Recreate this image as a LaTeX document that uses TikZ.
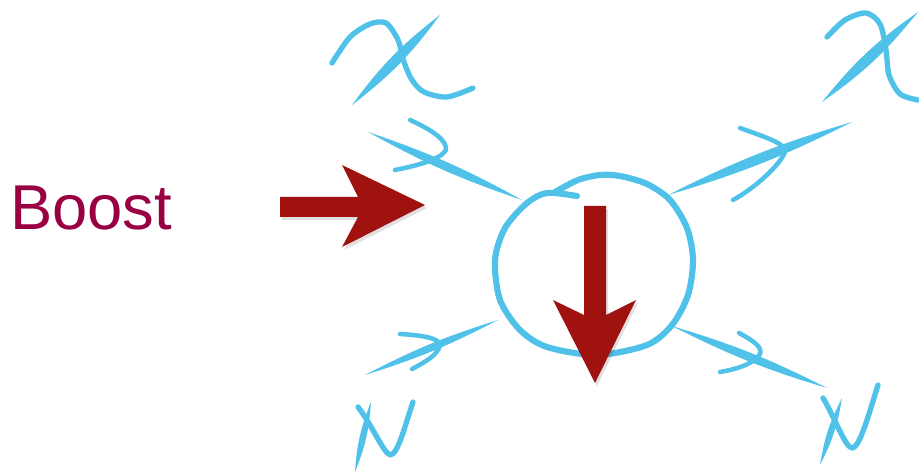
\documentclass[tikz,border=0pt]{standalone}
\usepackage{fontspec}
\setmainfont{Liberation Sans}
\definecolor{sk}{RGB}{80,193,233}
\definecolor{ar}{RGB}{160,18,16}
\definecolor{bt}{RGB}{153,0,68}
\newcommand{\lensstroke}[3]{\fill[sk] (#1) to[bend left=#3] (#2) to[bend left=#3] (#1) -- cycle;}
\begin{document}
\begin{tikzpicture}[x=0.75pt,y=-0.75pt,
  stroke/.style={draw=sk,line cap=round,line join=round,line width=3.4pt},
  redarrow/.style={fill=ar},
  shadowarrow/.style={fill=black,opacity=0.12}]
\useasboundingbox (0,0) rectangle (919,473);
% Boost label
\node[anchor=base west, text=bt, font=\fontsize{47.5}{50}\selectfont, inner sep=0] (boost) at (10,230) {Boost};
% red arrows (with faint shadow)
\fill[shadowarrow] ([shift={(2,3)}]280,197) -- ([shift={(2,3)}]358,197) -- ([shift={(2,3)}]342,165) -- ([shift={(2,3)}]425,205) -- ([shift={(2,3)}]342,247) -- ([shift={(2,3)}]358,217) -- ([shift={(2,3)}]280,217) -- cycle;
\fill[redarrow] (280,197) -- (358,197) -- (342,165) -- (425,205) -- (342,247) -- (358,217) -- (280,217) -- cycle;
% circle
\draw[stroke,line width=4.6pt] plot[smooth] coordinates {(577,196) (547,193) (527,203) (505,228) (495,260) (500,300) (520,330) (547,347) (597,355) (647,345) (672,325) (688,295) (693,260) (687,228) (670,200) (647,184) (620,176) (600,175) (578,180) (555,192)};
% down arrow
\fill[shadowarrow] ([shift={(2,3)}]584,206) -- ([shift={(2,3)}]606,206) -- ([shift={(2,3)}]606,315) -- ([shift={(2,3)}]636,300) -- ([shift={(2,3)}]595,383) -- ([shift={(2,3)}]553,300) -- ([shift={(2,3)}]584,315) -- cycle;
\fill[redarrow] (584,206) -- (606,206) -- (606,315) -- (636,300) -- (595,383) -- (553,300) -- (584,315) -- cycle;
% top-left chi
\lensstroke{352,105}{440,15}{8}
\draw[stroke,line width=4pt] plot[smooth] coordinates {(332,63) (350,37) (370,24) (386,23) (398,40) (404,62) (412,80) (424,92) (447,97) (473,88)};
% top-left particle line
\lensstroke{368,132}{522,200}{5}
\draw[stroke] (410,120) .. controls (432,130) and (447,140) .. (446,150) .. controls (440,160) and (415,166) .. (395,170);
% top-right chi
\lensstroke{822,102}{918,12}{8}
\draw[stroke,line width=4pt] plot[smooth] coordinates {(827,37) (845,20) (866,13) (880,24) (886,50) (889,75) (900,94) (918,100)};
% top-right particle line
\lensstroke{668,195}{852,122}{5}
\draw[stroke] (740,128) .. controls (765,137) and (787,144) .. (785,152) .. controls (780,165) and (755,188) .. (733,200);
% bottom-left particle line
\lensstroke{365,375}{498,320}{5}
\draw[stroke] (400,334) .. controls (420,335) and (440,338) .. (440,345) .. controls (438,355) and (425,362) .. (412,369);
% bottom-left N
\lensstroke{371,402}{355,472}{9}
\draw[stroke,line width=4pt] (358,407) .. controls (372,425) and (383,452) .. (390,455) .. controls (398,455) and (405,425) .. (413,402);
% bottom-right particle line
\lensstroke{672,326}{827,388}{-5}
\draw[stroke] (739,333) .. controls (752,340) and (763,347) .. (760,354) .. controls (755,363) and (738,369) .. (720,372);
% bottom-right N
\lensstroke{842,398}{820,465}{9}
\draw[stroke,line width=4pt] (823,398) .. controls (835,418) and (845,447) .. (852,448) .. controls (860,448) and (870,410) .. (878,385);
\end{tikzpicture}
\end{document}
